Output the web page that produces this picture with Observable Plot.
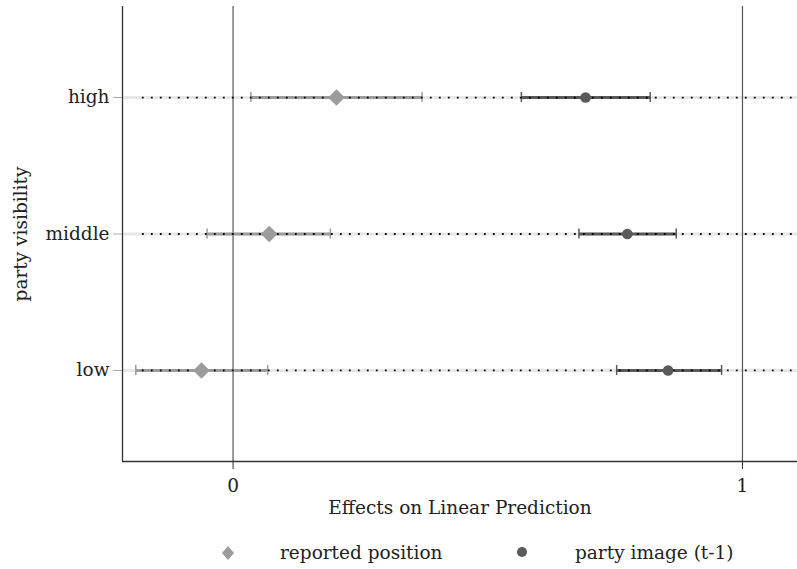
<!DOCTYPE html>
<html><head><meta charset="utf-8">
<script src="https://cdn.jsdelivr.net/npm/d3@7"></script>
<script src="https://cdn.jsdelivr.net/npm/@observablehq/plot@0.6"></script>
<style>
body{margin:0;background:#fff;}
#wrap{position:relative;width:797px;height:569px;font-family:"DejaVu Serif",serif;}
#legend{position:absolute;left:0;top:542px;width:797px;height:22px;font-size:18.5px;line-height:22px;color:#222;}
#legend span{position:absolute;top:0;white-space:nowrap;}
#legend svg{position:absolute;top:0;}
</style></head>
<body><div id="wrap"><div id="legend"></div></div>
<script>
const levels = ["low", "middle", "high"];
const reportedEst = [-0.062, 0.071, 0.203];
const reportedLo  = [-0.191, -0.051, 0.035];
const reportedHi  = [0.068, 0.191, 0.371];
const imageEst = [0.854, 0.774, 0.692];
const imageLo  = [0.753, 0.679, 0.566];
const imageHi  = [0.959, 0.870, 0.819];
const xTicks = [0, 1];
const xDomain = [-0.217, 1.108];
const yDomain = [0.333, 3.667];
const dotStart = -0.178;

const rows = levels.map((l, i) => ({level: l, y: i + 1}));
const rep = levels.map((l, i) => ({y: i + 1, est: reportedEst[i], lo: reportedLo[i], hi: reportedHi[i]}));
const img = levels.map((l, i) => ({y: i + 1, est: imageEst[i], lo: imageLo[i], hi: imageHi[i]}));
const capH = 0.037;
const caps = (arr) => arr.flatMap(d => [{x: d.lo, y: d.y}, {x: d.hi, y: d.y}]);

const repColor = "#9c9c9c", imgColor = "#5a5a5a";

const chart = Plot.plot({
  width: 797, height: 530,
  marginLeft: 122, marginRight: 0, marginTop: 6, marginBottom: 69,
  style: {fontFamily: "DejaVu Serif, serif", fontSize: "18.5px", color: "#222", background: "white"},
  x: {domain: xDomain},
  y: {domain: yDomain},
  marks: [
    Plot.ruleY(rows, {y: "y", stroke: "#e8e8e8", strokeWidth: 3}),
    Plot.ruleX(xTicks, {stroke: "#555", strokeWidth: 1.2}),
    Plot.link(rep, {x1: "lo", x2: "hi", y1: "y", y2: "y", stroke: repColor, strokeWidth: 3}),
    Plot.link(img, {x1: "lo", x2: "hi", y1: "y", y2: "y", stroke: imgColor, strokeWidth: 3}),
    Plot.ruleX(caps(rep), {x: "x", y1: d => d.y - capH, y2: d => d.y + capH, stroke: repColor, strokeWidth: 1.5}),
    Plot.ruleX(caps(img), {x: "x", y1: d => d.y - capH, y2: d => d.y + capH, stroke: imgColor, strokeWidth: 1.5}),
    Plot.ruleY(rows, {y: "y", x1: dotStart, x2: xDomain[1], stroke: "#000", strokeWidth: 1.8, strokeDasharray: "1.8 7.2"}),
    Plot.dot(rep, {x: "est", y: "y", symbol: "diamond2", r: 7.5, fill: repColor, stroke: "none"}),
    Plot.dot(img, {x: "est", y: "y", symbol: "circle", r: 5.3, fill: imgColor, stroke: "none"}),
    Plot.ruleX([xDomain[0]], {stroke: "#333", strokeWidth: 1.3}),
    Plot.ruleY([yDomain[0]], {stroke: "#333", strokeWidth: 1.3}),
    Plot.axisX({ticks: xTicks, tickFormat: d => String(d), tickSize: 8, tickPadding: 9.5, stroke: "#333",
      label: "Effects on Linear Prediction", labelAnchor: "center", labelOffset: 52, labelArrow: "none"}),
    Plot.axisY({ticks: [1, 2, 3], tickFormat: d => levels[d - 1], tickSize: 9, tickPadding: 4, stroke: "#aaa",
      label: "party visibility", labelAnchor: "center", labelOffset: 109, labelArrow: "none"})
  ]
});
const wrap = document.getElementById("wrap");
wrap.insertBefore(chart, wrap.firstChild);

const legend = document.getElementById("legend");
legend.innerHTML =
  `<svg width="16" height="22" style="left:220px"><path d="M8,4 L14,11 L8,18 L2,11 Z" fill="${repColor}"/></svg>` +
  `<span style="left:280px">reported position</span>` +
  `<svg width="14" height="22" style="left:515px"><circle cx="7" cy="10" r="5" fill="${imgColor}"/></svg>` +
  `<span style="left:575px">party image (t-1)</span>`;
</script></body></html>
